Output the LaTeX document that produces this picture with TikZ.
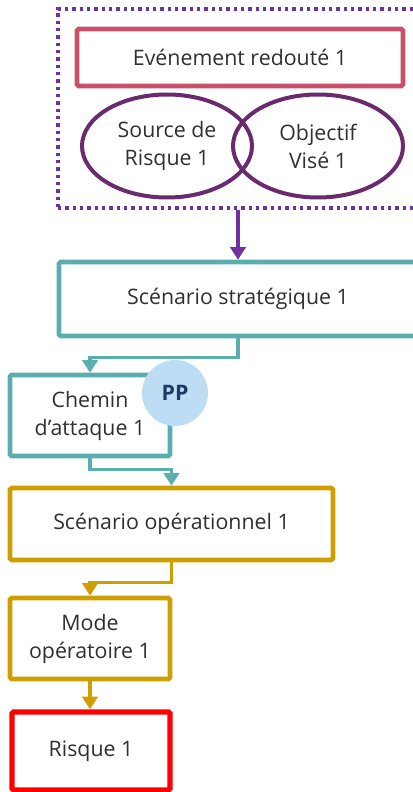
\documentclass[tikz,border=0pt]{standalone}
\usepackage{fontspec}
\setmainfont{Open Sans}
\usetikzlibrary{shapes.geometric,arrows.meta}

\definecolor{grouppurple}{HTML}{7030A0}
\definecolor{feared}{HTML}{C9506A}
\definecolor{plum}{HTML}{6A2A6E}
\definecolor{teal}{HTML}{5AAFAE}
\definecolor{gold}{HTML}{CF9E00}
\definecolor{riskred}{HTML}{FF0000}
\definecolor{ppblue}{HTML}{BDDDF4}
\definecolor{ppnavy}{HTML}{1F3864}
\definecolor{txt}{HTML}{303030}

\tikzset{
  box/.style={draw, line width=3.4pt, rounded corners=1.2pt, fill=white,
    text=txt, align=center, inner sep=0pt,
    font=\fontsize{16}{21}\selectfont},
  oval/.style={draw=plum, line width=3pt, ellipse, inner sep=0pt,
    text=txt, align=center, font=\fontsize{16}{21}\selectfont},
  link/.style={line width=2.5pt,
    -{Triangle[width=11.5pt,length=9.5pt]}},
}

\begin{document}
\begin{tikzpicture}[x=0.75pt,y=-0.75pt]
  \useasboundingbox (0,0) rectangle (413,792);
  \clip (0,0) rectangle (413,792);

  % grouping frame around the feared event and its source/objective pair
  \node (group) at (240,108.5) [draw=grouppurple, line width=2.4pt,
    dash pattern=on 2.4pt off 3.1pt, minimum width=273pt,
    minimum height=149.25pt, inner sep=0pt] {};

  \node (er) at (240,57.5) [box, draw=feared, minimum width=244.5pt,
    minimum height=42.75pt] {Evénement redouté 1};

  \node (sr) at (167,146) [oval, minimum width=127.5pt,
    minimum height=77.25pt] {Source de\\Risque 1};
  \node (ov) at (318,146) [oval, minimum width=127.5pt,
    minimum height=77.25pt] {Objectif\\Visé 1};

  % strategic scenario
  \node (strat) at (238,299) [box, draw=teal, minimum width=268.5pt,
    minimum height=55.5pt] {Scénario stratégique 1};

  % attack path with its PP marker
  \node (chemin) at (90,415.5) [box, draw=teal, minimum width=120pt,
    minimum height=60.75pt] {Chemin\\d’attaque 1};
  \node (pp) at (175,393) [circle, fill=ppblue, minimum size=49.5pt,
    inner sep=0pt, text=ppnavy,
    font=\bfseries\fontsize{16}{18}\selectfont] {PP};

  % operational scenario
  \node (op) at (171.5,524) [box, draw=gold, minimum width=242.25pt,
    minimum height=54pt] {Scénario opérationnel 1};

  \node (mode) at (90,638.5) [box, draw=gold, minimum width=120pt,
    minimum height=60.75pt] {Mode\\opératoire 1};

  \node (risk) at (91,751) [box, draw=riskred, line width=4pt,
    minimum width=118.5pt, minimum height=58.5pt] {Risque 1};

  % connectors
  \draw[link, grouppurple] (strat.north |- group.south) -- (strat.north);
  \draw[link, teal] (strat.south) -- ++(0,19) -| (chemin.north);
  \draw[link, teal] (chemin.south) -- ++(0,11) -| (op.north);
  \draw[link, gold] (op.south) -- ++(0,20) -| (mode.north);
  \draw[link, gold] (mode.south) -- (mode.south |- risk.north);
\end{tikzpicture}
\end{document}
